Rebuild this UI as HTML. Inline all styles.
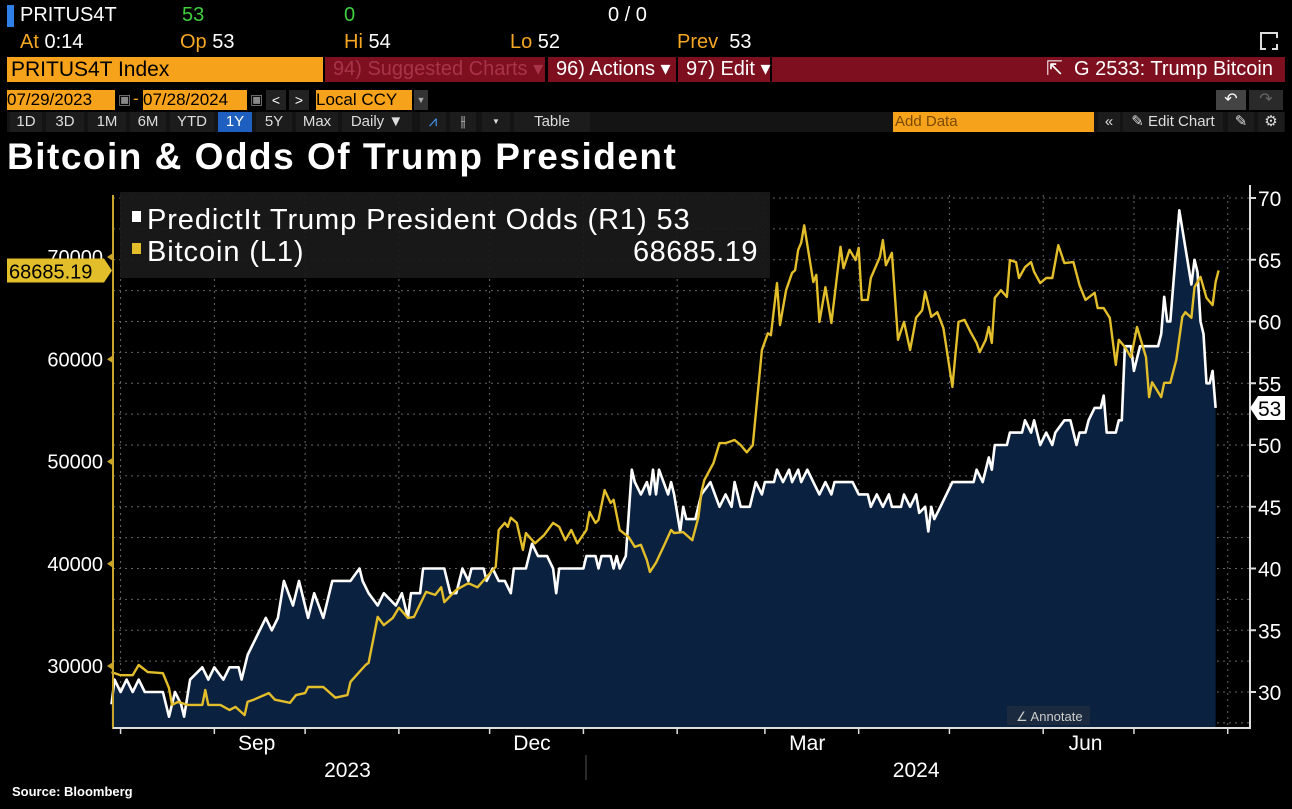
<!DOCTYPE html>
<html><head><meta charset="utf-8">
<style>
body{margin:0;width:1292px;height:809px;background:#000;overflow:hidden;font-family:"Liberation Sans",sans-serif;color:#fff;position:relative}
.a{position:absolute;white-space:nowrap}
.h{font-size:20px;font-family:"Liberation Sans Narrow","Liberation Sans",sans-serif}
.o{color:#f5a623}.g{color:#3fcf3f}
.btn{position:absolute;top:112px;height:20px;font-size:15px;line-height:20px;text-align:center;background:#1c1c1c;color:#ddd}
</style></head><body>
<div class="a" style="left:7px;top:5px;width:7px;height:22px;background:#2f7fe8"></div>
<div class="a h" style="left:20px;top:4px">PRITUS4T</div>
<div class="a h g" style="left:182px;top:4px">53</div>
<div class="a h g" style="left:344px;top:4px">0</div>
<div class="a h" style="left:608px;top:4px">0 / 0</div>
<div class="a h" style="left:20px;top:31px"><span class="o">At</span> 0:14</div>
<div class="a h" style="left:180px;top:31px"><span class="o">Op</span> 53</div>
<div class="a h" style="left:344px;top:31px"><span class="o">Hi</span> 54</div>
<div class="a h" style="left:510px;top:31px"><span class="o">Lo</span> 52</div>
<div class="a h" style="left:677px;top:31px"><span class="o">Prev</span>&nbsp; 53</div>
<div class="a" style="left:1260px;top:32px;width:14px;height:14px;border:2px solid #ddd;border-right-style:dashed;border-bottom-style:dashed"></div>
<div class="a h" style="left:7px;top:57px;width:312px;height:25px;background:#f7a21b;color:#000;padding-left:4px;line-height:25px;font-size:21px">PRITUS4T Index</div>
<div class="a h" style="left:325px;top:57px;width:220px;height:25px;background:#7d0f1e;color:#a8344a;line-height:25px;padding-left:8px;box-sizing:border-box">94) Suggested Charts ▾</div>
<div class="a h" style="left:548px;top:57px;width:128px;height:25px;background:#7d0f1e;line-height:25px;padding-left:8px;box-sizing:border-box">96) Actions ▾</div>
<div class="a h" style="left:678px;top:57px;width:92px;height:25px;background:#7d0f1e;line-height:25px;padding-left:8px;box-sizing:border-box">97) Edit ▾</div>
<div class="a h" style="left:772px;top:57px;width:513px;height:25px;background:#7d0f1e;line-height:25px;text-align:right;padding-right:12px;box-sizing:border-box">⇱&nbsp; G 2533: Trump Bitcoin</div>
<div class="a h" style="left:7px;top:90px;width:108px;height:20px;background:#f7a21b;color:#000;font-size:17px;line-height:20px">07/29/2023</div>
<div class="a" style="left:118px;top:91px;color:#888;font-size:14px">▣</div>
<div class="a" style="left:133px;top:89px;color:#f7a21b;font-size:17px">-</div>
<div class="a h" style="left:143px;top:90px;width:104px;height:20px;background:#f7a21b;color:#000;font-size:17px;line-height:20px">07/28/2024</div>
<div class="a" style="left:250px;top:91px;color:#888;font-size:14px">▣</div>
<div class="a" style="left:266px;top:90px;width:20px;height:20px;background:#222;text-align:center;font-size:14px;line-height:20px">&lt;</div>
<div class="a" style="left:289px;top:90px;width:20px;height:20px;background:#222;text-align:center;font-size:14px;line-height:20px">&gt;</div>
<div class="a h" style="left:316px;top:90px;width:96px;height:20px;background:#f7a21b;color:#000;font-size:17px;line-height:20px">Local CCY</div>
<div class="a" style="left:414px;top:90px;width:14px;height:20px;background:#333;font-size:9px;line-height:20px;text-align:center;color:#aaa">▼</div>
<div class="a" style="left:1216px;top:90px;width:30px;height:20px;background:#444;text-align:center;line-height:20px">↶</div>
<div class="a" style="left:1249px;top:90px;width:34px;height:20px;background:#2a2a2a;color:#666;text-align:center;line-height:20px">↷</div>
<div class="a" style="left:7px;top:112px;width:1278px;height:20px;background:#141414"></div>
<div class="btn" style="left:10px;width:32px">1D</div>
<div class="btn" style="left:46px;width:38px">3D</div>
<div class="btn" style="left:88px;width:38px">1M</div>
<div class="btn" style="left:130px;width:36px">6M</div>
<div class="btn" style="left:170px;width:44px">YTD</div>
<div class="btn" style="left:218px;width:34px;background:#1f5fbf;color:#fff">1Y</div>
<div class="btn" style="left:256px;width:36px">5Y</div>
<div class="btn" style="left:296px;width:42px">Max</div>
<div class="btn" style="left:342px;width:70px">Daily ▼</div>
<div class="btn" style="left:420px;width:26px;color:#4a9bff">⩘</div>
<div class="btn" style="left:450px;width:26px">⫲</div>
<div class="btn" style="left:482px;width:28px;font-size:8px">▼</div>
<div class="btn" style="left:514px;width:76px">Table</div>
<div class="btn" style="left:893px;width:201px;background:#f7a21b;color:#7a4a00;text-align:left;padding-left:2px;box-sizing:border-box">Add Data</div>
<div class="btn" style="left:1098px;width:22px">«</div>
<div class="btn" style="left:1123px;width:100px">✎ Edit Chart</div>
<div class="btn" style="left:1228px;width:26px">✎</div>
<div class="btn" style="left:1258px;width:26px">⚙</div>
<div class="a" style="left:7px;top:136px;font-size:37px;font-weight:bold;letter-spacing:1.5px">Bitcoin &amp; Odds Of Trump President</div>

<svg class="a" style="left:0;top:0" width="1292" height="809" id="chart"></svg>

<div class="a" style="left:12px;top:784px;font-size:13px;font-weight:bold">Source: Bloomberg</div>

<script>
const dateStart = "2023-07-29";
const trumpDays = [0,1,3,5,7,9,11,17,19,21,23,24,26,30,32,34,37,39,42,43,45,47,49,51,53,55,57,60,62,65,67,70,73,75,79,82,83,85,88,90,94,96,98,99,102,103,110,112,114,116,118,119,123,124,126,128,130,132,133,137,139,141,144,146,147,148,156,157,160,161,162,165,166,167,168,170,172,173,175,177,178,179,180,181,184,185,186,188,189,190,193,195,198,201,203,205,206,208,211,213,215,216,219,220,222,224,225,227,228,230,232,234,236,238,239,245,247,250,251,253,255,257,258,261,262,264,266,267,269,270,271,272,274,276,278,285,286,288,290,291,292,296,297,301,302,304,305,307,309,311,312,315,317,319,320,322,323,325,327,328,329,332,333,334,335,337,338,340,346,347,348,349,350,353,357,358,359,360,361,362,363,364,365];
const trumpOdds = [29,31,30,31,30,31,30,30,28,30,29,28,31,32,31,32,31,32,32,31,33,34,35,36,35,36,39,37,39,36,38,36,39,39,39,40,39,38,37,38,37,38,36,38,38,40,40,38,38,40,39,40,40,39,40,39,39,38,40,40,42,41,41,40,38,40,40,41,41,40,41,41,40,41,40,41,48,47,46,47,46,48,46,48,46,47,46,43,45,44,44,46,47,45,46,45,47,45,45,47,46,47,47,48,47,48,47,48,47,48,47,46,47,46,47,47,46,46,45,46,45,46,45,45,46,45,46,44.5,45,43,45,44,45,46,47,47,48,47,49,48,50,50,51,51,52,51,52,50,51,50,51,52,52,50,51,51,52,53,53,54,51,51,52,52,58,58,56,58,58,59,62,60,60,69,63,65,64,60,59,55,55,56,53];
const btcDays = [0,3,7,9,12,17,19,20,22,25,30,31,32,36,39,41,44,45,47,52,54,59,61,64,65,70,74,78,79,84,85,88,90,93,95,98,100,104,107,109,110,114,118,121,124,127,128,130,131,132,134,136,137,140,143,146,148,150,152,154,157,158,160,161,163,165,166,168,171,173,175,177,178,180,183,185,186,189,192,194,195,196,199,201,203,206,208,210,212,215,217,218,220,221,223,225,226,227,228,229,230,232,233,234,236,238,241,242,244,246,247,248,250,251,254,255,256,258,260,262,264,266,268,269,271,273,275,278,280,282,284,286,287,289,290,291,292,294,296,297,299,300,302,304,305,307,309,311,313,315,318,320,322,325,326,328,330,332,333,335,337,338,339,342,343,344,347,348,350,352,354,355,357,358,360,362,364,365,366];
const btcPrice = [29400,29100,29100,30100,29400,29300,27850,26200,26500,26200,26200,27650,26200,26200,25700,26000,25200,26500,26700,27350,26700,26400,27150,27350,27950,27950,26900,27150,28450,30100,30300,34800,34000,34700,35700,34700,34800,37250,36950,37700,36250,37450,38100,37700,38700,39700,43300,44000,43600,44500,44000,41350,43000,42000,42800,44000,43600,42300,43300,42000,43300,45050,44000,44300,47200,45950,46250,43300,42600,41650,41850,40350,39200,40100,42000,43300,43000,43100,42300,44550,47000,48200,49850,51800,51800,52100,51600,50900,51600,60900,62550,62350,67450,63350,66750,68450,68700,70700,71400,73100,71200,67550,68250,63650,67050,63550,71000,68900,70700,69700,70900,65800,65800,67950,70000,71650,69200,70400,61900,63650,60900,64050,64800,66600,64150,64600,63050,57300,63650,63850,62650,61600,60700,61900,63150,61600,66000,66750,66100,69700,69500,67950,69000,69500,68550,67450,67950,67950,71150,69400,69500,67250,65800,66500,65000,65000,64050,59450,61900,61200,60200,61600,63150,60200,56300,57750,56300,57700,57700,59950,64150,64600,64050,67050,68050,66000,65300,67550,68685];
const leftTicks = [30000,40000,50000,60000,70000];
const rightTicks = [30,35,40,45,50,55,60,65,70];
const monthLabels = ["Sep","Dec","Mar","Jun"];
const monthLabelDays = [48,139,230,322];
const monthStartDays = [3,34,64,95,125,156,187,216,247,277,308,338,369];
const yearLabels = ["2023","2024"];
const yearLabelDays = [78,266];

const NS="http://www.w3.org/2000/svg";
const svg=document.getElementById('chart');
const X=d=>111.5+3.025*d;
const YL=v=>666-(v-30000)*0.010225;
const YR=v=>445-(v-50)*12.35;
const PT=195, PB=727, PL=113, PR=1250;
const NF='Liberation Sans Narrow, Liberation Sans, sans-serif';
function mk(tag,attrs){const e=document.createElementNS(NS,tag);for(const k in attrs)e.setAttribute(k,attrs[k]);svg.appendChild(e);return e;}

for(let v=27.5;v<=70;v+=2.5){const g=mk('line',{x1:PL,x2:PR,y1:YR(v),y2:YR(v),stroke:'#666','stroke-dasharray':'2,4','stroke-width':1});

}
monthStartDays.forEach(d=>{const g=mk('line',{x1:X(d),x2:X(d),y1:PT,y2:PB,stroke:'#666','stroke-dasharray':'2,4','stroke-width':1});

});

let pts=trumpDays.map((d,i)=>X(d).toFixed(1)+','+YR(trumpOdds[i]).toFixed(1));
const area=mk('polygon',{points:X(trumpDays[0])+','+PB+' '+pts.join(' ')+' '+X(trumpDays[trumpDays.length-1])+','+PB,fill:'#0b2140'});


const tl=mk('polyline',{points:pts.join(' '),fill:'none',stroke:'#fff','stroke-width':2.6,'stroke-linejoin':'round'});


const bpts=btcDays.map((d,i)=>X(d).toFixed(1)+','+YL(btcPrice[i]).toFixed(1));
const bl=mk('polyline',{points:bpts.join(' '),fill:'none',stroke:'#e3be2b','stroke-width':2.4,'stroke-linejoin':'round'});



const la=mk('line',{x1:PL,x2:PL,y1:PT,y2:PB+2,stroke:'#c9a52a','stroke-width':2});


const ra=mk('line',{x1:PR,x2:PR,y1:185,y2:PB+2,stroke:'#ddd','stroke-width':2});


const ba=mk('line',{x1:PL,x2:PR,y1:PB+1,y2:PB+1,stroke:'#ddd','stroke-width':2});


leftTicks.forEach(v=>{
 const t=mk('text',{x:103,y:YL(v)+7,fill:'#fff','font-size':20,'text-anchor':'end','font-family':NF});t.textContent=v;
 
 
 const m=mk('polygon',{points:`${PL},${YL(v)-4} ${PL},${YL(v)+4} ${PL-6},${YL(v)}`,fill:'#c9a52a'});
 
 
});
rightTicks.forEach(v=>{
 const t=mk('text',{x:1258,y:YR(v)+8,fill:'#fff','font-size':21,'font-family':NF});t.textContent=v;
 
 
 const m=mk('line',{x1:PR,x2:PR+6,y1:YR(v),y2:YR(v),stroke:'#ddd','stroke-width':2});
 
 
});
monthStartDays.forEach(d=>{const m=mk('line',{x1:X(d),x2:X(d),y1:PB+1,y2:PB+7,stroke:'#ddd','stroke-width':1.5});

});
monthLabels.forEach((s,i)=>{const t=mk('text',{x:X(monthLabelDays[i]),y:750,fill:'#fff','font-size':21,'text-anchor':'middle','font-family':NF});t.textContent=s;

});
yearLabels.forEach((s,i)=>{const t=mk('text',{x:X(yearLabelDays[i]),y:777,fill:'#fff','font-size':21,'text-anchor':'middle','font-family':NF});t.textContent=s;

});
const ys=mk('line',{x1:586,x2:586,y1:755,y2:780,stroke:'#555','stroke-width':1});



const lg=mk('rect',{x:120,y:192,width:650,height:86,fill:'#1a1a1a','fill-opacity':0.92});


const s1=mk('rect',{x:132,y:211,width:9,height:11,fill:'#fff'});


const s2=mk('rect',{x:132,y:243,width:9,height:11,fill:'#e3be2b'});


const l1=mk('text',{x:147,y:229,fill:'#fff','font-size':29,'letter-spacing':0.9,'font-family':NF});l1.textContent='PredictIt Trump President Odds (R1) 53';


const l2=mk('text',{x:147,y:261,fill:'#fff','font-size':29,'letter-spacing':0.9,'font-family':NF});l2.textContent='Bitcoin (L1)';


const l3=mk('text',{x:758,y:261,fill:'#fff','font-size':29,'text-anchor':'end','letter-spacing':0.5,'font-family':NF});l3.textContent='68685.19';



const by=YL(btcPrice[btcPrice.length-1]);
const bt=mk('polygon',{points:`7,${by-12} 104,${by-12} 112,${by} 104,${by+12} 7,${by+12}`,fill:'#e3be2b'});


const btt=mk('text',{x:9,y:by+8,fill:'#000','font-size':20,'font-family':NF});btt.textContent='68685.19';


const ty=YR(trumpOdds[trumpOdds.length-1]);
const tt=mk('polygon',{points:`1250,${ty} 1258,${ty-12} 1285,${ty-12} 1285,${ty+12} 1258,${ty+12}`,fill:'#fff'});


const ttt=mk('text',{x:1258,y:ty+8,fill:'#000','font-size':21,'font-family':NF});ttt.textContent='53';



const ab=mk('rect',{x:1007,y:706,width:83,height:19,fill:'#1b2a3e'});


const at=mk('text',{x:1016,y:721,fill:'#ccc','font-size':13});at.textContent='∠ Annotate';


</script>
</body></html>
